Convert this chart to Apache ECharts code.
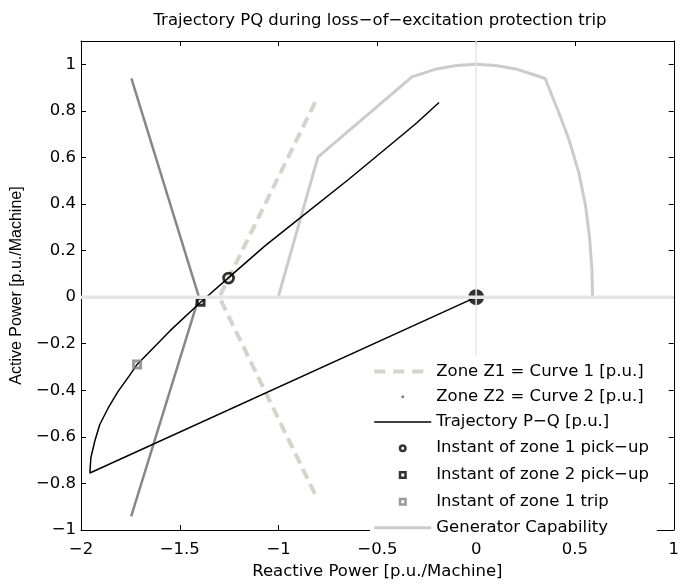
<!DOCTYPE html>
<html>
<head>
<meta charset="utf-8">
<title>Trajectory PQ</title>
<script src="https://cdn.jsdelivr.net/npm/echarts@6/dist/echarts.min.js"></script>
<style>
html, body { margin: 0; padding: 0; background: #fff; }
#chart { width: 682px; height: 585px; }
</style>
</head>
<body>
<div id="chart"></div>
<script>
// [Q, P] pairs
var zone1 = [[-0.815, 0.837], [-1.300, 0.0], [-0.805, -0.864]];
var zone2 = [[-1.745, 0.940], [-1.403, 0.0], [-1.746, -0.941]];
var trajectory = [
    [-0.188, 0.836], [-0.300, 0.749], [-0.400, 0.678], [-0.651, 0.502],
    [-0.902, 0.333], [-1.069, 0.220], [-1.253, 0.084], [-1.353, 0.009],
    [-1.395, -0.022], [-1.550, -0.145], [-1.716, -0.289], [-1.754, -0.336],
    [-1.813, -0.406], [-1.863, -0.477], [-1.905, -0.547], [-1.930, -0.618],
    [-1.950, -0.689], [-1.955, -0.755], [0.0, 0.0]
];
var zone1Pickup = [[-1.253, 0.082]];
var zone2Pickup = [[-1.395, -0.020]];
var zone1Trip = [[-1.716, -0.289]];
var endPoint = [[0.0, 0.0]];
var capability = [
    [-1.002, 0.0], [-0.801, 0.601], [-0.325, 0.946], [-0.200, 0.980],
    [-0.100, 0.995], [0.0, 1.0], [0.100, 0.995], [0.200, 0.980],
    [0.300, 0.953], [0.349, 0.939], [0.419, 0.791], [0.469, 0.678],
    [0.519, 0.537], [0.553, 0.396], [0.574, 0.256], [0.586, 0.115],
    [0.589, 0.0]
];
var qAxisLine = [[-2, 0], [1, 0]];
var pAxisLine = [[0, -1], [0, 1.1]];
var yTicks = [-1, -0.8, -0.6, -0.4, -0.2, 0, 0.2, 0.4, 0.6, 0.8, 1];

var names = [
    'Zone Z1 = Curve 1 [p.u.]',
    'Zone Z2 = Curve 2 [p.u.]',
    'Trajectory P−Q [p.u.]',
    'Instant of zone 1 pick−up',
    'Instant of zone 2 pick−up',
    'Instant of zone 1 trip',
    'Generator Capability'
];

var FONT = 'DejaVu Sans';
var BOX = 'path://M0 0M57 16';   // keeps every legend icon in the same 57x16 box

function minus(v) {
    var s = String(Math.round(v * 10) / 10);
    return s.replace('-', '\u2212');
}

var chart = echarts.init(document.getElementById('chart'));

var option = {
    animation: false,
    backgroundColor: '#fff',
    title: {
        text: 'Trajectory PQ during loss−of−excitation protection trip',
        left: 380,
        top: 12,
        padding: 0,
        textAlign: 'center',
        textStyle: { fontFamily: FONT, fontSize: 16.5, fontWeight: 'normal', color: '#000' }
    },
    grid: { left: 81, right: 3, top: 41, bottom: 48 },
    legend: {
        orient: 'vertical',
        left: 370,
        top: 355,
        z: 10,
        padding: [8, 8, 6, 3],
        backgroundColor: '#fff',
        itemWidth: 57,
        itemHeight: 16,
        itemGap: 8.3,
        selectedMode: false,
        textStyle: { fontFamily: FONT, fontSize: 16.5, color: '#000', lineHeight: 16 },
        data: [
            { name: names[0], icon: BOX + 'M0 6h11v4h-11zM19 6h11v4h-11zM38 6h11v4h-11z',
              itemStyle: { color: '#d6d3ca', borderWidth: 0 } },
            { name: names[1], icon: BOX + 'M27 8a1.5 1.5 0 1 0 3 0a1.5 1.5 0 1 0 -3 0z',
              itemStyle: { color: '#808080', borderWidth: 0 } },
            { name: names[2], icon: BOX + 'M0 7.25h57v1.5h-57z',
              itemStyle: { color: '#000', borderWidth: 0 } },
            { name: names[3], icon: BOX + 'M31.25 8a2.75 2.75 0 1 0 -5.5 0a2.75 2.75 0 1 0 5.5 0z',
              itemStyle: { color: 'transparent', borderColor: '#000', borderWidth: 2.5 } },
            { name: names[4], icon: BOX + 'M25.75 5.25h5.5v5.5h-5.5z',
              itemStyle: { color: 'transparent', borderColor: '#000', borderWidth: 2.5 } },
            { name: names[5], icon: BOX + 'M25.75 5.25h5.5v5.5h-5.5z',
              itemStyle: { color: 'transparent', borderColor: '#808080', borderWidth: 2.5 } },
            { name: names[6], icon: BOX + 'M0 6.5h57v3h-57z',
              itemStyle: { color: '#cbcbcb', borderWidth: 0 } }
        ]
    },
    xAxis: [{
        type: 'value',
        min: -2, max: 1, interval: 0.5,
        name: 'Reactive Power [p.u./Machine]',
        nameLocation: 'middle',
        nameGap: 33,
        nameTextStyle: { fontFamily: FONT, fontSize: 16.5, color: '#000' },
        axisLine: { onZero: false, lineStyle: { color: '#000', width: 1 } },
        axisTick: { inside: true, length: 5, lineStyle: { color: '#000' } },
        axisLabel: { margin: 11, fontFamily: FONT, fontSize: 16.5, color: '#000', formatter: minus },
        splitLine: { show: false }
    }, {
        type: 'value',
        position: 'top',
        min: -2, max: 1, interval: 0.5,
        axisLine: { onZero: false, lineStyle: { color: '#000', width: 1 } },
        axisTick: { inside: true, length: 5, lineStyle: { color: '#000' } },
        axisLabel: { show: false },
        splitLine: { show: false }
    }],
    yAxis: [{
        type: 'value',
        min: -1, max: 1.1,
        name: 'Active Power [p.u./Machine]',
        nameLocation: 'middle',
        nameGap: 43,
        nameTextStyle: { fontFamily: 'Liberation Sans', fontSize: 16, color: '#000' },
        axisLine: { onZero: false, lineStyle: { color: '#000', width: 1 } },
        axisTick: { inside: true, length: 5, customValues: yTicks, lineStyle: { color: '#000' } },
        axisLabel: { margin: 5, customValues: yTicks, fontFamily: FONT, fontSize: 16.5, color: '#000', formatter: minus },
        splitLine: { show: false }
    }, {
        type: 'value',
        position: 'right',
        min: -1, max: 1.1,
        axisLine: { onZero: false, lineStyle: { color: '#000', width: 1 } },
        axisTick: { inside: true, length: 5, customValues: yTicks, lineStyle: { color: '#000' } },
        axisLabel: { show: false },
        splitLine: { show: false }
    }],
    series: [
        {
            name: 'End point', type: 'scatter', data: endPoint, z: 1,
            symbol: 'circle', symbolSize: 16, itemStyle: { color: '#000' }
        },
        {
            name: names[6], type: 'line', data: capability, z: 2,
            symbol: 'none', lineStyle: { color: '#cbcbcb', width: 3 }
        },
        {
            name: names[0], type: 'line', data: zone1, z: 2,
            symbol: 'none', lineStyle: { color: '#d6d3ca', width: 4, type: [11, 6] }
        },
        {
            name: names[1], type: 'line', data: zone2, z: 2,
            symbol: 'none', lineStyle: { color: '#878787', width: 2.5 }
        },
        {
            name: names[2], type: 'line', data: trajectory, z: 2,
            symbol: 'none', lineStyle: { color: '#000', width: 1.5 }
        },
        {
            name: names[3], type: 'scatter', data: zone1Pickup, z: 3,
            symbol: 'circle', symbolSize: 10,
            itemStyle: { color: 'transparent', borderColor: '#000', borderWidth: 2.8 }
        },
        {
            name: names[4], type: 'scatter', data: zone2Pickup, z: 3,
            symbol: 'rect', symbolSize: 7,
            itemStyle: { color: 'transparent', borderColor: '#000', borderWidth: 3 }
        },
        {
            name: names[5], type: 'scatter', data: zone1Trip, z: 3,
            symbol: 'rect', symbolSize: 7,
            itemStyle: { color: 'transparent', borderColor: '#808080', borderWidth: 3 }
        },
        {
            name: 'Q axis', type: 'line', data: qAxisLine, z: 4,
            symbol: 'none', lineStyle: { color: '#e6e6e6', width: 3.5 }
        },
        {
            name: 'P axis', type: 'line', data: pAxisLine, z: 4,
            symbol: 'none', lineStyle: { color: '#e6e6e6', width: 1.5 }
        }
    ]
};

chart.setOption(option);
</script>
</body>
</html>
